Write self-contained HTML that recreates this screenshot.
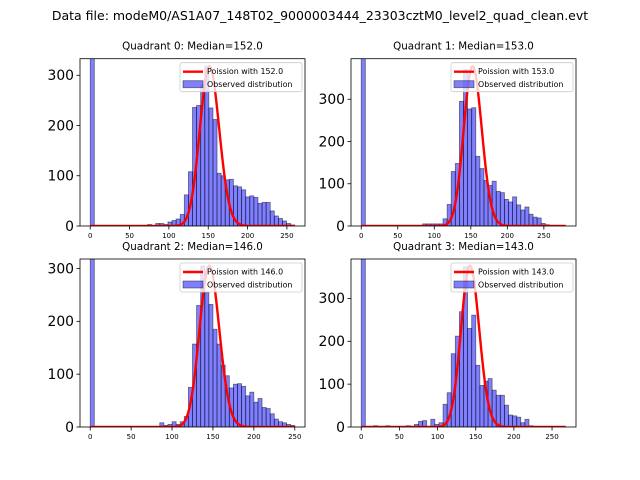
<!DOCTYPE html>
<html><head><meta charset="utf-8"><style>
body{margin:0;background:#fff}
svg{display:block;font-family:"DejaVu Sans","Liberation Sans",sans-serif}
</style></head><body>
<svg id="fig" width="640" height="480" viewBox="0 0 640 480">
<rect width="640" height="480" fill="#fff"/>
<text x="320" y="20" font-size="12.5" text-anchor="middle">Data file: modeM0/AS1A07_148T02_9000003444_23303cztM0_level2_quad_clean.evt</text>
</svg>
<script>
const titles=["Quadrant 0: Median=152.0","Quadrant 1: Median=153.0","Quadrant 2: Median=146.0","Quadrant 3: Median=143.0"];
const medians=[152,153,146,143];
const maxVals=[260,280,250,268];
const yLimits=[333,396,318,392];
const curvePeaks=[318,378,305,376];
const xTicks=[0,50,100,150,200,250];
const yTicks=[0,100,200,300];
function arr(m){const a=new Array(50).fill(0);for(const k in m)a[k]=m[k];return a;}
const countsQ0=arr({0:1000,14:3,16:5,17:5,18:3,19:8,20:11,21:14,22:23,23:62,24:108,25:236,26:240,27:281,28:318,29:235,30:212,31:105,32:100,33:92,34:93,35:80,36:78,37:72,38:58,39:60,40:57,41:45,42:47,43:47,44:30,45:20,46:15,47:10,48:5,49:2});
const countsQ1=arr({0:1000,15:5,16:5,17:5,18:5,19:5,20:17,21:51,22:129,23:148,24:295,25:370,26:277,27:280,28:165,29:136,30:108,31:96,32:106,33:82,34:79,35:63,36:57,37:69,38:50,39:38,40:45,41:28,42:21,43:19,44:6,45:3});
const countsQ2=arr({0:1000,17:8,18:3,19:5,20:10,21:5,22:10,23:20,24:75,25:157,26:230,27:305,28:255,29:232,30:185,31:157,32:117,33:97,34:74,35:81,36:82,37:77,38:59,39:66,40:47,41:54,42:37,43:35,44:25,45:15,46:10,47:8,48:5,49:3});
const countsQ3=arr({0:1000,3:3,6:3,11:3,13:6,14:13,15:15,17:18,18:6,19:10,20:53,21:80,22:171,23:212,24:269,25:374,26:230,27:261,28:144,29:97,30:107,31:113,32:86,33:74,34:74,35:51,36:28,37:26,38:23,39:10,40:18,41:3});
const allCounts=[countsQ0,countsQ1,countsQ2,countsQ3];
const boxes=[[80,58.7,305,226],[351,58.7,576,226],[80,259,305,427],[351,259,576,427]];
const NS="http://www.w3.org/2000/svg";
const svg=document.getElementById('fig');
function mk(tag,attrs,parent){const e=document.createElementNS(NS,tag);for(const k in attrs)e.setAttribute(k,attrs[k]);(parent||svg).appendChild(e);return e;}
function lgamma(x){
  if(x<7){let p=1;while(x<7){p*=x;x+=1;}return lgamma(x)-Math.log(p);}
  return (x-0.5)*Math.log(x)-x+0.5*Math.log(2*Math.PI)+1/(12*x)-1/(360*x*x*x);}
for(let q=0;q<4;q++){
  const [L,T,R,B]=boxes[q];
  const xmax=maxVals[q], xlo=-xmax*0.05, xhi=xmax*1.05;
  const sx=v=>L+(v-xlo)/(xhi-xlo)*(R-L);
  const sy=v=>B-v/yLimits[q]*(B-T);
  const g=mk('g',{});
  
  
  const t=mk('text',{x:(L+R)/2,y:T-9,'font-size':10.3,'text-anchor':'middle'},g);
  t.textContent=titles[q];
  
  
  mk('clipPath',{id:'c'+q},g).appendChild(mk('rect',{x:L,y:T,width:R-L,height:B-T},g));
  const bars=mk('g',{'clip-path':'url(#c'+q+')'},g);
  const bw=xmax/50;
  allCounts[q].forEach((c,i)=>{
    if(c<=0)return;
    const x0=sx(i*bw),x1=sx((i+1)*bw),y=sy(c);
    const r=mk('rect',{x:x0,y:y,width:x1-x0,height:B-y,fill:'rgba(0,0,255,0.5)',stroke:'rgba(0,0,0,0.5)','stroke-width':0.8},bars);
    
    
  });
  const lam=medians[q];
  const peakPmf=Math.exp(Math.round(lam)*Math.log(lam)-lam-lgamma(Math.round(lam)+1));
  let d='';
  for(let k=0;k<=xmax;k++){
    const p=Math.exp(k*Math.log(lam)-lam-lgamma(k+1));
    d+=(k?'L':'M')+sx(k).toFixed(2)+','+sy(p/peakPmf*curvePeaks[q]).toFixed(2);
  }
  const pl=mk('path',{d:d,fill:'none',stroke:'red','stroke-width':2.4,'clip-path':'url(#c'+q+')'},g);
  
  
  const fr=mk('rect',{x:L,y:T,width:R-L,height:B-T,fill:'none',stroke:'#000','stroke-width':0.8},g);
  
  
  xTicks.forEach(v=>{
    if(v>xhi)return;
    const x=sx(v);
    mk('line',{x1:x,y1:B,x2:x,y2:B+3.5,stroke:'#000','stroke-width':0.8},g);
    const tl=mk('text',{x:x,y:B+12,'font-size':7,'text-anchor':'middle'},g);
    tl.textContent=v;
    
    
  });
  yTicks.forEach(v=>{
    const y=sy(v);
    mk('line',{x1:L,y1:y,x2:L-3.5,y2:y,stroke:'#000','stroke-width':0.8},g);
    const tl=mk('text',{x:L-6,y:y+4.8,'font-size':13.9,'text-anchor':'end'},g);
    tl.textContent=v;
    
    
  });
  const lg=mk('g',{},g);
  
  
  const lx=R-125, ly=T+4;
  mk('rect',{x:lx,y:ly,width:122,height:29,rx:2,fill:'rgba(255,255,255,0.8)',stroke:'#ccc','stroke-width':0.8},lg);
  mk('line',{x1:lx+3,y1:ly+9,x2:lx+23,y2:ly+9,stroke:'red','stroke-width':2.4},lg);
  const t1=mk('text',{x:lx+27,y:ly+11.5,'font-size':7.9},lg);
  t1.textContent='Poission with '+medians[q].toFixed(1);
  
  
  mk('rect',{x:lx+3,y:ly+18,width:20,height:7,fill:'rgba(0,0,255,0.5)',stroke:'rgba(0,0,0,0.5)','stroke-width':0.8},lg);
  const t2=mk('text',{x:lx+27,y:ly+24.5,'font-size':7.9},lg);
  t2.textContent='Observed distribution';
  
  
}
</script>
</body></html>
